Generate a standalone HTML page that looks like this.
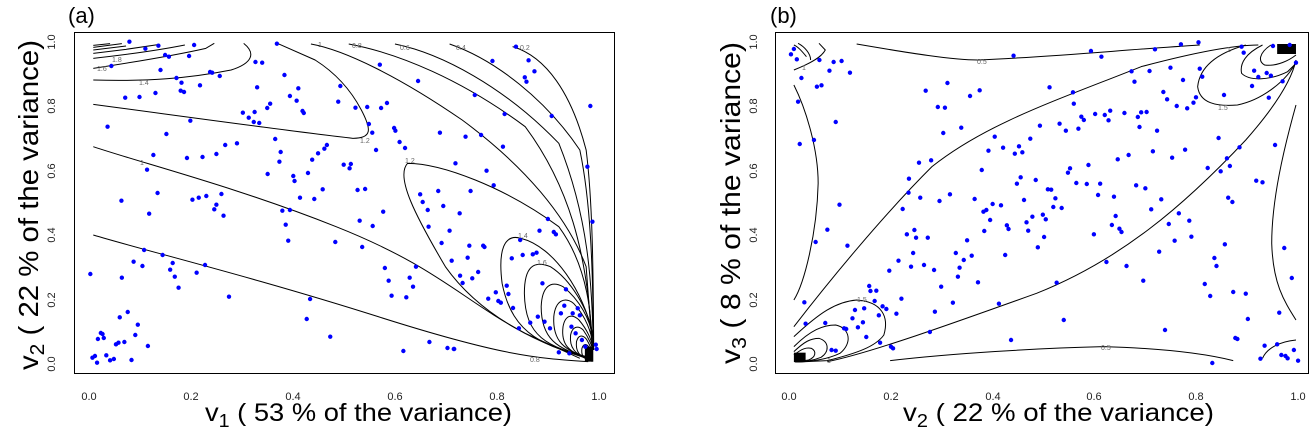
<!DOCTYPE html>
<html><head><meta charset="utf-8"><style>
body{margin:0;background:#fff}
svg{display:block;font-family:"Liberation Sans",Arial,sans-serif}
.c{fill:none;stroke:#000;stroke-width:1;vector-effect:non-scaling-stroke}
.p{fill:none;stroke:#0000ff;stroke-width:4.4;stroke-linecap:round;vector-effect:non-scaling-stroke}
.t{font-size:11px;fill:#222}
.cl{font-size:7px;fill:#666}
</style></head><body>
<svg width="1316" height="429" viewBox="0 0 1316 429">
<rect x="74.5" y="32.5" width="540" height="341" fill="none" stroke="#000"/>
<rect x="775.5" y="32.5" width="533" height="341" fill="none" stroke="#000"/>
<text x="68" y="23" font-size="22">(a)</text>
<text x="770" y="23" font-size="22">(b)</text>
<g class="t" text-anchor="middle">
<text transform="translate(55,364) rotate(-90)">0.0</text>
<text transform="translate(55,300) rotate(-90)">0.2</text>
<text transform="translate(55,235) rotate(-90)">0.4</text>
<text transform="translate(55,171) rotate(-90)">0.6</text>
<text transform="translate(55,106) rotate(-90)">0.8</text>
<text transform="translate(55,42) rotate(-90)">1.0</text>
<text x="89" y="400">0.0</text><text x="191" y="400">0.2</text><text x="293" y="400">0.4</text><text x="395" y="400">0.6</text><text x="497" y="400">0.8</text><text x="599" y="400">1.0</text>
<text transform="translate(757,364) rotate(-90)">0.0</text>
<text transform="translate(757,300) rotate(-90)">0.2</text>
<text transform="translate(757,235) rotate(-90)">0.4</text>
<text transform="translate(757,171) rotate(-90)">0.6</text>
<text transform="translate(757,106) rotate(-90)">0.8</text>
<text transform="translate(757,42) rotate(-90)">1.0</text>
<text x="789" y="400">0.0</text><text x="891" y="400">0.2</text><text x="993" y="400">0.4</text><text x="1094" y="400">0.6</text><text x="1196" y="400">0.8</text><text x="1298" y="400">1.0</text>
</g>
<text transform="translate(38,370) rotate(-90)" font-size="28" textLength="330" lengthAdjust="spacingAndGlyphs">v<tspan font-size="20" dy="6">2</tspan><tspan dy="-6">  ( 22 % of the variance)</tspan></text>
<text transform="translate(740,364) rotate(-90)" font-size="28" textLength="322" lengthAdjust="spacingAndGlyphs">v<tspan font-size="20" dy="6">3</tspan><tspan dy="-6">  ( 8 % of the variance)</tspan></text>
<text x="205" y="421" font-size="25" textLength="307" lengthAdjust="spacingAndGlyphs">v<tspan font-size="18" dy="6">1</tspan><tspan dy="-6">  ( 53 % of the variance)</tspan></text>
<text x="903" y="421" font-size="25" textLength="311" lengthAdjust="spacingAndGlyphs">v<tspan font-size="18" dy="6">2</tspan><tspan dy="-6">  ( 22 % of the variance)</tspan></text>

<g transform="scale(0.42017,0.33333)">
<path class="c" d="M222 705C340 750 600 830 900 950S1280 1075 1400 1085"/>
<path class="c" d="M222 440C340 490 560 560 800 680S1100 900 1250 1000L1380 1075"/>
<path class="c" d="M222 313C500 360 700 395 840 415C885 415 885 390 860 330C835 270 800 220 750 180L660 130"/>
<path class="c" d="M1410 1080C1300 1040 1150 960 1060 800C990 650 940 530 970 490C1050 490 1200 560 1330 680C1400 800 1410 950 1410 1080"/>
<path class="c" d="M222 240C350 245 450 235 550 210C600 190 610 160 580 130"/>
<path class="c" d="M222 205C300 190 420 165 490 145L510 130"/>
<path class="c" d="M222 175C330 160 400 145 440 135"/>
<path class="c" d="M222 160L300 148L380 133M222 150L300 138M222 142L290 131M222 136L262 131"/>
<path class="c" d="M740 132C820 150 950 230 1100 360C1250 500 1350 650 1395 800L1410 1050"/>
<path class="c" d="M830 132C950 160 1100 240 1250 380C1350 550 1400 750 1410 1050"/>
<path class="c" d="M940 132C1050 160 1200 260 1330 430C1400 650 1410 850 1412 1050"/>
<path class="c" d="M1070 132C1180 180 1300 300 1380 450C1405 600 1412 800 1412 1050"/>
<path class="c" d="M1220 140C1300 170 1360 280 1395 450C1410 600 1412 800 1413 1050"/>
<path class="c" d="M1410 1075C1300 1040 1220 1010 1195 850C1185 750 1200 700 1240 715C1320 740 1390 880 1410 1000"/>
<path class="c" d="M1410 1075C1300 1040 1250 1010 1248 880C1248 800 1270 780 1310 800C1360 840 1400 930 1410 1000"/>
<path class="c" d="M1410 1075C1320 1050 1288 1010 1288 920C1290 860 1310 840 1340 860C1380 900 1405 960 1410 1010"/>
<path class="c" d="M1410 1075C1340 1055 1315 1020 1318 950C1322 900 1345 890 1365 910C1395 950 1408 1000 1410 1030"/>
<path class="c" d="M1410 1078C1350 1060 1335 1030 1340 980C1345 945 1362 940 1378 960C1398 990 1408 1020 1410 1040"/>
<path class="c" d="M1410 1080C1365 1065 1355 1040 1358 1005C1362 980 1375 975 1388 990C1402 1015 1410 1040 1410 1050"/>
<path class="c" d="M1410 1082C1375 1072 1370 1050 1372 1025C1376 1005 1386 1003 1396 1018C1406 1040 1410 1055 1410 1060"/>
<path class="c" d="M1410 1084C1385 1076 1383 1062 1385 1045C1389 1030 1396 1030 1402 1042"/>
<rect x="1392" y="1040" width="20" height="45" fill="#000"/>
<path class="p" d="M308 125h0M346 146h0M377 137h0M393 165h0M402 170h0M462 135h0M450 168h0M265 198h0M382 210h0M420 234h0M432 248h0M430 272h0M438 276h0M476 256h0M500 216h0M505 218h0M523 228h0M298 293h0M332 291h0M370 279h0M256 380h0M396 402h0M453 362h0M365 465h0M445 474h0M482 471h0M515 462h0M350 509h0M375 579h0M355 641h0M289 602h0M458 599h0M473 593h0M491 588h0M510 628h0M515 614h0M527 582h0M532 647h0M536 435h0M564 430h0M578 338h0M592 353h0M606 336h0M604 366h0M617 369h0M612 262h0M624 188h0M608 186h0M659 131h0M677 225h0M690 288h0M706 302h0M710 265h0M720 333h0M723 339h0M643 311h0M636 324h0M637 522h0M655 417h0M668 456h0M665 485h0M672 632h0M680 674h0M686 722h0M690 630h0M698 528h0M701 543h0M714 593h0M733 519h0M743 479h0M748 597h0M757 460h0M768 568h0M772 446h0M778 435h0M798 726h0M810 258h0M805 305h0M818 494h0M832 505h0M835 492h0M846 323h0M851 570h0M856 662h0M862 741h0M869 567h0M874 321h0M878 372h0M886 398h0M887 678h0M895 450h0M904 194h0M907 324h0M912 635h0M916 804h0M921 309h0M925 842h0M932 887h0M938 384h0M941 392h0M951 426h0M964 444h0M967 892h0M975 833h0M983 860h0M990 800h0M995 243h0M1000 583h0M1006 606h0M1018 630h0M1020 680h0M1043 573h0M1047 398h0M1051 729h0M1055 618h0M1065 1044h0M1070 692h0M1075 782h0M1081 1047h0M1084 490h0M1094 640h0M1095 827h0M1101 849h0M1108 410h0M1113 773h0M1117 737h0M1120 573h0M1124 835h0M1130 285h0M1138 816h0M1145 405h0M1150 737h0M1153 741h0M1158 512h0M1162 896h0M1172 183h0M1175 556h0M1180 877h0M1186 903h0M1192 908h0M1197 440h0M1201 342h0M1206 857h0M1210 882h0M1218 775h0M1221 924h0M1228 140h0M1235 985h0M1238 720h0M1244 765h0M1249 232h0M1253 245h0M1258 181h0M1262 968h0M1268 763h0M1272 214h0M1277 758h0M1280 950h0M1284 692h0M1291 850h0M1296 965h0M1304 657h0M1309 985h0M1313 348h0M1318 696h0M1323 703h0M1330 1057h0M1335 940h0M1343 917h0M1347 868h0M1355 1060h0M1360 980h0M1363 940h0M1370 1000h0M1375 925h0M1380 946h0M1385 1020h0M1393 1040h0M1398 500h0M1405 318h0M1410 665h0M1418 1034h0M1420 1047h0M215 822h0M220 1073h0M226 1068h0M231 1088h0M233 1017h0M240 999h0M244 1002h0M247 1014h0M253 1066h0M262 1081h0M271 1077h0M276 1033h0M282 1028h0M285 952h0M290 833h0M296 1026h0M304 936h0M313 1080h0M318 785h0M322 1005h0M328 974h0M339 798h0M343 750h0M352 1038h0M387 765h0M405 809h0M411 789h0M416 830h0M425 863h0M468 818h0M488 795h0M545 890h0M730 957h0M738 897h0M786 1010h0M960 1053h0M1022 1026h0M1080 1047h0"/>
</g>
<g class="cl">
<text x="139" y="85">1.4</text><text x="360" y="143">1.2</text><text x="140" y="165">1</text><text x="405" y="163">1.2</text><text x="530" y="362">0.8</text><text x="518" y="238">1.4</text><text x="537" y="265">1.6</text><text x="97" y="71">1.6</text><text x="112" y="62">1.8</text><text x="318" y="47">1</text><text x="352" y="48">0.8</text><text x="400" y="50">0.6</text><text x="456" y="50">0.4</text><text x="520" y="50">0.2</text>
</g>

<g transform="translate(660,0) scale(0.41841,0.33333)">
<path class="c" d="M470 132C600 160 700 180 760 180C950 170 1100 150 1290 135"/>
<path class="c" d="M550 1082C700 1060 900 1045 1060 1040C1200 1045 1300 1060 1370 1082"/>
<path class="c" d="M320 255C350 330 378 450 378 550C375 700 345 850 320 900"/>
<path class="c" d="M1520 315C1490 450 1462 600 1462 730C1465 850 1490 900 1520 960"/>
<path class="c" d="M320 980C400 850 530 650 650 500C780 370 950 300 1150 200C1300 150 1380 135 1430 135"/>
<path class="c" d="M400 1085C500 1060 700 970 900 880C1100 780 1250 620 1400 420C1470 320 1510 240 1520 180"/>
<path class="c" d="M320 210C350 195 385 175 395 150L380 130"/>
<path class="c" d="M1440 1075C1450 1045 1480 1025 1520 1020"/>
<path class="c" d="M320 1010C380 940 420 905 470 900C530 905 548 950 535 1005C515 1040 470 1060 400 1082L330 1086"/>
<path class="c" d="M320 1040C360 990 390 975 420 975C455 985 460 1030 430 1060C400 1078 360 1085 325 1086"/>
<path class="c" d="M320 1055C345 1025 360 1015 380 1015C405 1025 405 1055 385 1072C365 1082 340 1086 322 1086"/>
<path class="c" d="M320 1065C340 1045 350 1042 362 1045C375 1055 372 1072 355 1080L325 1086"/>
<path class="c" d="M1400 135C1330 160 1290 200 1285 260C1290 310 1330 320 1380 315C1440 300 1500 240 1520 185"/>
<path class="c" d="M1440 135C1400 160 1385 190 1390 220C1410 245 1460 240 1500 215L1520 190"/>
<path class="c" d="M1460 135C1430 160 1430 185 1445 195C1475 200 1505 180 1520 165"/>
<path class="c" d="M320 135C330 140 340 155 350 170M330 130C345 140 360 160 360 180"/>
<rect x="320" y="1058" width="28" height="28" fill="#000"/>
<rect x="1475" y="132" width="45" height="30" fill="#000"/>
<path class="p" d="M313 163h0M320 147h0M327 178h0M338 234h0M330 305h0M334 432h0M368 420h0M375 260h0M386 256h0M381 180h0M405 212h0M415 186h0M434 183h0M454 218h0M420 366h0M429 614h0M448 737h0M372 726h0M400 689h0M345 907h0M348 971h0M395 969h0M420 1052h0M410 1050h0M440 985h0M445 987h0M460 955h0M466 930h0M473 982h0M485 967h0M488 925h0M493 1011h0M500 858h0M503 873h0M513 903h0M517 872h0M523 946h0M526 1028h0M532 919h0M541 927h0M548 812h0M552 1040h0M557 1045h0M565 941h0M570 782h0M577 896h0M580 627h0M590 703h0M594 578h0M595 536h0M600 800h0M605 759h0M608 690h0M612 713h0M619 488h0M622 593h0M631 795h0M635 272h0M640 713h0M645 996h0M648 481h0M655 810h0M657 935h0M664 321h0M668 603h0M672 860h0M677 399h0M681 323h0M687 249h0M693 583h0M700 908h0M707 759h0M712 830h0M716 803h0M720 383h0M726 780h0M734 721h0M741 288h0M745 767h0M752 597h0M760 847h0M764 271h0M769 510h0M773 635h0M775 693h0M780 630h0M785 452h0M789 660h0M795 612h0M800 410h0M810 911h0M815 616h0M820 443h0M825 765h0M829 676h0M833 687h0M839 1020h0M845 167h0M848 461h0M853 551h0M858 439h0M862 532h0M866 457h0M870 600h0M876 667h0M880 692h0M885 416h0M890 650h0M898 540h0M903 742h0M908 377h0M915 644h0M918 711h0M922 658h0M927 568h0M931 262h0M935 569h0M940 621h0M945 595h0M948 848h0M955 371h0M960 624h0M965 960h0M970 392h0M975 518h0M980 505h0M987 277h0M989 311h0M995 549h0M1000 386h0M1007 350h0M1013 360h0M1020 552h0M1024 495h0M1030 153h0M1037 703h0M1040 342h0M1047 585h0M1052 551h0M1055 170h0M1063 345h0M1067 786h0M1072 361h0M1076 332h0M1080 675h0M1085 590h0M1089 648h0M1094 478h0M1098 686h0M1103 696h0M1110 339h0M1115 798h0M1120 465h0M1127 214h0M1134 245h0M1138 556h0M1142 351h0M1146 381h0M1150 337h0M1155 842h0M1160 565h0M1163 336h0M1170 213h0M1174 628h0M1178 454h0M1183 148h0M1188 392h0M1193 755h0M1198 598h0M1203 276h0M1207 990h0M1212 298h0M1216 672h0M1220 203h0M1224 473h0M1230 722h0M1235 318h0M1240 640h0M1245 133h0M1250 240h0M1255 449h0M1260 325h0M1265 662h0M1270 710h0M1275 308h0M1281 292h0M1287 127h0M1290 206h0M1296 230h0M1302 852h0M1309 504h0M1315 888h0M1320 1089h0M1325 774h0M1330 798h0M1335 414h0M1340 514h0M1348 285h0M1350 733h0M1355 475h0M1358 593h0M1362 498h0M1368 606h0M1370 876h0M1375 1014h0M1380 1017h0M1385 442h0M1390 140h0M1395 158h0M1400 881h0M1405 957h0M1415 258h0M1420 212h0M1425 542h0M1430 231h0M1435 1076h0M1440 547h0M1445 1037h0M1450 219h0M1455 293h0M1460 227h0M1465 138h0M1470 435h0M1475 1033h0M1480 938h0M1485 1065h0M1488 244h0M1492 744h0M1495 1068h0M1500 1075h0M1505 135h0M1510 834h0M1515 1050h0M1520 188h0M1525 1082h0"/>
</g>
<g class="cl">
<text x="977" y="64">0.5</text><text x="1101" y="350">0.5</text><text x="857" y="302">1.5</text><text x="1218" y="110">1.5</text><text x="827" y="363">1</text><text x="1227" y="52">1</text><text x="802" y="70">1</text>
</g>
</svg>
</body></html>
